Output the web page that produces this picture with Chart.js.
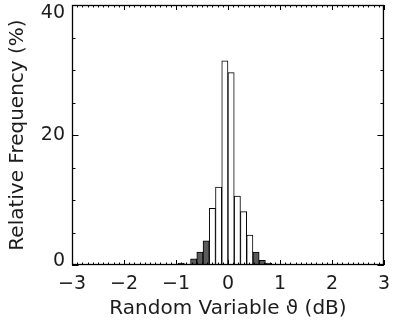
<!DOCTYPE html>
<html>
<head>
<meta charset="utf-8">
<script src="https://cdn.jsdelivr.net/npm/chart.js@4/dist/chart.umd.min.js"></script>
<style>
  html, body { margin: 0; padding: 0; background: #fff; }
  #wrap { width: 398px; height: 322px; }
</style>
</head>
<body>
<div id="wrap"><canvas id="histChart"></canvas></div>
<script>
// histogram bins (dB), bin width 0.12
const binCenters = [-0.90, -0.78, -0.66, -0.54, -0.42, -0.30, -0.18, -0.06, 0.06, 0.18, 0.30, 0.42, 0.54, 0.66, 0.78, 0.90];
const frequency  = [0.3, 0, 0.95, 2.0, 3.7, 8.7, 12.0, 31.4, 29.6, 10.6, 8.2, 4.6, 2.0, 0.7, 0.3, 0];
// bins outside this band are shaded
const whiteBand = [-0.36, 0.48];

const xTicks = [-3, -2, -1, 0, 1, 2, 3];
const yTicks = [0, 20, 40];
const xMinorStep = 0.1;
const yMinorStep = 5;

const FONT = "'DejaVu Sans', sans-serif";
const TEXT = '#1c1c1c';

const fmt = v => (v < 0 ? '\u2212' + Math.abs(v) : String(v));

// box frame, inward ticks on all four sides, y labels
const frameTicks = {
    id: 'frameTicks',
    afterDatasetsDraw(chart) {
        const { ctx, chartArea: a, scales: { x, y } } = chart;
        ctx.save();
        ctx.strokeStyle = '#000';
        ctx.lineWidth = 1.3;
        ctx.strokeRect(a.left + 0.5, a.top + 0.5, a.right - a.left - 1, a.bottom - a.top - 1);

        ctx.lineWidth = 1;
        ctx.beginPath();
        const nx = Math.round((x.max - x.min) / xMinorStep);
        for (let i = 0; i <= nx; i++) {
            const px = Math.round(x.getPixelForValue(x.min + i * xMinorStep)) + 0.5;
            const len = i % 10 === 0 ? 5 : 2.5;
            ctx.moveTo(px, a.bottom); ctx.lineTo(px, a.bottom - len);
            ctx.moveTo(px, a.top); ctx.lineTo(px, a.top + len);
        }
        const ny = Math.round((y.max - y.min) / yMinorStep);
        for (let i = 0; i <= ny; i++) {
            const py = Math.round(y.getPixelForValue(y.min + i * yMinorStep)) + 0.5;
            const len = i % 4 === 0 ? 6.5 : 3.5;
            ctx.moveTo(a.left, py); ctx.lineTo(a.left + len, py);
            ctx.moveTo(a.right, py); ctx.lineTo(a.right - len, py);
        }
        ctx.stroke();

        ctx.fillStyle = TEXT;
        ctx.font = '19px ' + FONT;
        ctx.textAlign = 'right';
        ctx.textBaseline = 'middle';
        yTicks.forEach(v => {
            let py = y.getPixelForValue(v);
            py = Math.min(Math.max(py, a.top + 8), a.bottom - 4);
            ctx.fillText(fmt(v), a.left - 7, py);
        });
        ctx.restore();
    }
};

new Chart(document.getElementById('histChart'), {
    type: 'bar',
    data: {
        datasets: [{
            data: binCenters.map((c, i) => ({ x: c, y: frequency[i] })),
            backgroundColor: ctx => {
                const c = ctx.raw ? ctx.raw.x : 0;
                return (c < whiteBand[0] || c > whiteBand[1]) ? '#5a5a5a' : '#ffffff';
            },
            borderColor: '#000',
            borderWidth: 1,
            borderSkipped: false,
            categoryPercentage: 1.0,
            barPercentage: 1.0
        }]
    },
    options: {
        responsive: true,
        maintainAspectRatio: false,
        animation: false,
        layout: { autoPadding: false, padding: { left: 0, right: 3, top: 5, bottom: 0 } },
        plugins: { legend: { display: false }, tooltip: { enabled: false } },
        scales: {
            x: {
                type: 'linear',
                min: -3,
                max: 3,
                offset: false,
                grid: { display: false, drawTicks: false, offset: false },
                border: { display: false },
                afterBuildTicks: s => { s.ticks = xTicks.map(v => ({ value: v })); },
                afterFit: s => { s.height = 57; },
                ticks: {
                    autoSkip: false,
                    maxRotation: 0,
                    padding: 8,
                    color: TEXT,
                    font: { family: FONT, size: 19 },
                    callback: v => fmt(v)
                },
                title: {
                    display: true,
                    text: 'Random Variable \u03D1 (dB)',
                    color: TEXT,
                    font: { family: FONT, size: 20 },
                    padding: { top: 0, bottom: 1 }
                }
            },
            y: {
                min: 0,
                max: 40,
                grid: { display: false, drawTicks: false },
                border: { display: false },
                ticks: { display: false },
                afterFit: s => { s.width = 72; },
                title: {
                    display: true,
                    text: 'Relative Frequency (%)',
                    color: TEXT,
                    font: { family: FONT, size: 20 },
                    padding: { top: 6, bottom: 0 }
                }
            }
        }
    },
    plugins: [frameTicks]
});
</script>
</body>
</html>
